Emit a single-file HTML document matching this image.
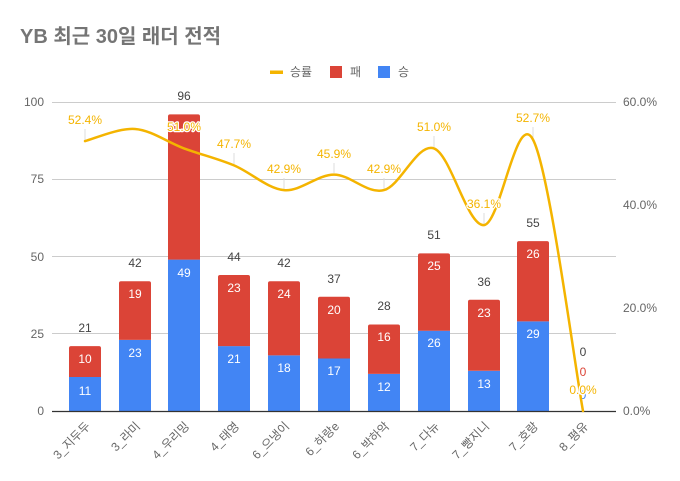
<!DOCTYPE html>
<html><head><meta charset="utf-8"><style>
html,body{margin:0;padding:0;background:#fff;}
svg{display:block;}
text{font-family:"Liberation Sans","Noto Sans CJK KR",sans-serif;}
</style></head><body>
<svg width="680" height="481" viewBox="0 0 680 481" xmlns="http://www.w3.org/2000/svg">
<rect width="680" height="481" fill="#fff"/>
<text x="20" y="43" font-size="20" font-weight="bold" fill="#757575">YB 최근 30일 래더 전적</text>
<!-- legend -->
<rect x="270" y="70.5" width="13" height="3.5" fill="#f4b400"/>
<text x="290" y="76" font-size="12" fill="#666">승률</text>
<rect x="330" y="66" width="12" height="12" fill="#db4437"/>
<text x="350" y="76" font-size="12" fill="#666">패</text>
<rect x="378" y="66" width="12" height="12" fill="#4285f4"/>
<text x="398" y="76" font-size="12" fill="#666">승</text>
<!-- gridlines -->
<g stroke="#cccccc" stroke-width="1">
<line x1="52" y1="102.5" x2="616" y2="102.5"/>
<line x1="52" y1="179.5" x2="616" y2="179.5"/>
<line x1="52" y1="256.5" x2="616" y2="256.5"/>
<line x1="52" y1="333.5" x2="616" y2="333.5"/>
</g>
<g font-size="12" fill="#666" text-anchor="end">
<text x="44" y="106">100</text>
<text x="44" y="183">75</text>
<text x="44" y="261">50</text>
<text x="44" y="338">25</text>
<text x="44" y="415">0</text>
</g>
<g font-size="12" fill="#666">
<text x="623" y="106">60.0%</text>
<text x="623" y="209">40.0%</text>
<text x="623" y="312">20.0%</text>
<text x="623" y="415">0.0%</text>
</g>
<!-- bars -->
<g>
<rect x="69" y="377.0" width="32" height="34.0" fill="#4285f4"/>
<path d="M69,377.0 V348.1 Q69,346.1 71,346.1 H99 Q101,346.1 101,348.1 V377.0 Z" fill="#db4437"/>
<rect x="119" y="339.9" width="32" height="71.1" fill="#4285f4"/>
<path d="M119,339.9 V283.2 Q119,281.2 121,281.2 H149 Q151,281.2 151,283.2 V339.9 Z" fill="#db4437"/>
<rect x="168" y="259.6" width="32" height="151.4" fill="#4285f4"/>
<path d="M168,259.6 V116.4 Q168,114.4 170,114.4 H198 Q200,114.4 200,116.4 V259.6 Z" fill="#db4437"/>
<rect x="218" y="346.1" width="32" height="64.9" fill="#4285f4"/>
<path d="M218,346.1 V277.0 Q218,275.0 220,275.0 H248 Q250,275.0 250,277.0 V346.1 Z" fill="#db4437"/>
<rect x="268" y="355.4" width="32" height="55.6" fill="#4285f4"/>
<path d="M268,355.4 V283.2 Q268,281.2 270,281.2 H298 Q300,281.2 300,283.2 V355.4 Z" fill="#db4437"/>
<rect x="318" y="358.5" width="32" height="52.5" fill="#4285f4"/>
<path d="M318,358.5 V298.7 Q318,296.7 320,296.7 H348 Q350,296.7 350,298.7 V358.5 Z" fill="#db4437"/>
<rect x="368" y="373.9" width="32" height="37.1" fill="#4285f4"/>
<path d="M368,373.9 V326.5 Q368,324.5 370,324.5 H398 Q400,324.5 400,326.5 V373.9 Z" fill="#db4437"/>
<rect x="418" y="330.7" width="32" height="80.3" fill="#4285f4"/>
<path d="M418,330.7 V255.4 Q418,253.4 420,253.4 H448 Q450,253.4 450,255.4 V330.7 Z" fill="#db4437"/>
<rect x="468" y="370.8" width="32" height="40.2" fill="#4285f4"/>
<path d="M468,370.8 V301.8 Q468,299.8 470,299.8 H498 Q500,299.8 500,301.8 V370.8 Z" fill="#db4437"/>
<rect x="517" y="321.4" width="32" height="89.6" fill="#4285f4"/>
<path d="M517,321.4 V243.1 Q517,241.1 519,241.1 H547 Q549,241.1 549,243.1 V321.4 Z" fill="#db4437"/>
</g>
<!-- baseline -->
<line x1="52" y1="411.5" x2="616" y2="411.5" stroke="#333" stroke-width="1.2"/>
<!-- inside labels -->
<g font-size="12" fill="#fff" text-anchor="middle">
<text x="85" y="363">10</text><text x="85" y="395">11</text>
<text x="135" y="298">19</text><text x="135" y="357">23</text>
<text x="184" y="277">49</text>
<text x="234" y="292">23</text><text x="234" y="363">21</text>
<text x="284" y="298">24</text><text x="284" y="372">18</text>
<text x="334" y="314">20</text><text x="334" y="375">17</text>
<text x="384" y="341">16</text><text x="384" y="391">12</text>
<text x="434" y="270">25</text><text x="434" y="347">26</text>
<text x="484" y="317">23</text><text x="484" y="388">13</text>
<text x="533" y="258">26</text><text x="533" y="338">29</text>
</g>
<!-- totals -->
<g font-size="12" fill="#444" text-anchor="middle">
<text x="85" y="332">21</text>
<text x="135" y="267">42</text>
<text x="184" y="100">96</text>
<text x="234" y="261">44</text>
<text x="284" y="267">42</text>
<text x="334" y="283">37</text>
<text x="384" y="310">28</text>
<text x="434" y="239">51</text>
<text x="484" y="286">36</text>
<text x="533" y="227">55</text>
<text x="583" y="356">0</text>
</g>
<text x="583" y="376" font-size="12" fill="#db4437" text-anchor="middle">0</text>
<text x="583" y="399" font-size="12" fill="#4285f4" text-anchor="middle">0</text>
<!-- leader lines -->
<g stroke="#dddddd" stroke-width="1">
<line x1="85" y1="129" x2="85" y2="140"/>
<line x1="234" y1="153" x2="234" y2="164"/>
<line x1="284" y1="178" x2="284" y2="189"/>
<line x1="334" y1="163" x2="334" y2="173"/>
<line x1="384" y1="178" x2="384" y2="189"/>
<line x1="434" y1="136" x2="434" y2="147"/>
<line x1="484" y1="213" x2="484" y2="224"/>
<line x1="533" y1="127" x2="533" y2="138"/>
</g>
<!-- line -->
<path d="M85,141.1 C93.33,139.08 118.5,127.78 135,129.0 C151.5,130.22 167.5,142.33 184,148.4 C200.5,154.47 217.33,158.45 234,165.4 C250.67,172.35 267.33,188.57 284,190.1 C300.67,191.63 317.33,174.6 334,174.6 C350.67,174.6 367.33,194.47 384,190.1 C400.67,185.73 417.33,142.57 434,148.4 C450.67,154.23 467.5,226.57 484,225.1 C500.5,223.63 516.5,108.62 533,139.6 C549.5,170.58 574.67,365.77 583,411" fill="none" stroke="#f4b400" stroke-width="2.5" stroke-linejoin="round" stroke-linecap="round"/>
<!-- line labels -->
<g font-size="12" fill="#f4b400" text-anchor="middle" stroke="#fff" stroke-width="2.5" paint-order="stroke" stroke-linejoin="round">
<text x="85" y="124">52.4%</text>
<text x="184" y="131">51.0%</text>
<text x="234" y="148">47.7%</text>
<text x="284" y="173">42.9%</text>
<text x="334" y="158">45.9%</text>
<text x="384" y="173">42.9%</text>
<text x="434" y="131">51.0%</text>
<text x="484" y="208">36.1%</text>
<text x="533" y="122">52.7%</text>
<text x="583" y="394">0.0%</text>
</g>
<!-- x labels -->
<g font-size="12" fill="#666" text-anchor="end">
<text transform="translate(91,427) rotate(-45)">3_지두두</text>
<text transform="translate(141,427) rotate(-45)">3_라미</text>
<text transform="translate(190,427) rotate(-45)">4_우리밍</text>
<text transform="translate(240,427) rotate(-45)">4_태영</text>
<text transform="translate(290,427) rotate(-45)">6_으냉이</text>
<text transform="translate(340,427) rotate(-45)">6_하랑e</text>
<text transform="translate(390,427) rotate(-45)">6_박하악</text>
<text transform="translate(440,427) rotate(-45)">7_다뉴</text>
<text transform="translate(490,427) rotate(-45)">7_빵지니</text>
<text transform="translate(539,427) rotate(-45)">7_호랑</text>
<text transform="translate(589,427) rotate(-45)">8_평유</text>
</g>
</svg>
</body></html>
